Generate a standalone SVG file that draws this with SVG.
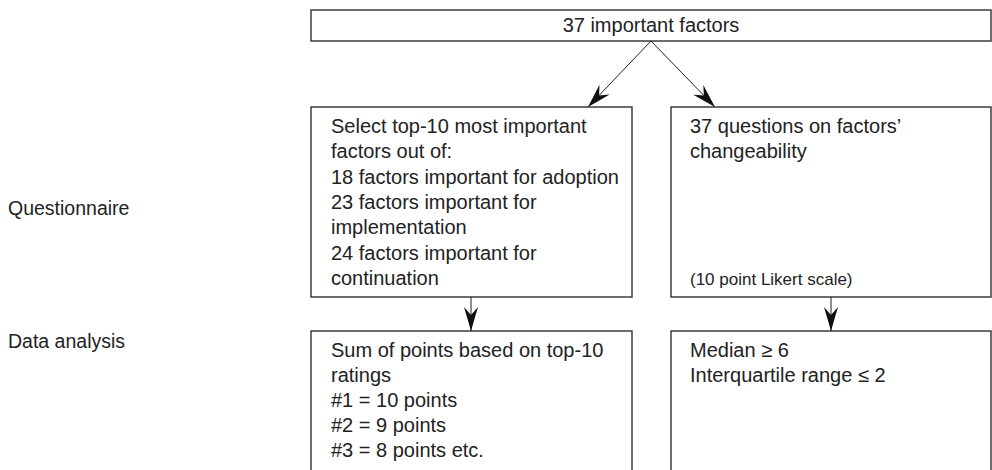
<svg xmlns="http://www.w3.org/2000/svg" width="992" height="470" viewBox="0 0 992 470">
<style>
text{font-family:"Liberation Sans",Arial,sans-serif;font-size:20px;fill:#222}
.side{font-size:19.5px}
.box{fill:#fff;stroke:#3c3c3c;stroke-width:1.5}
.conn{stroke:#222;stroke-width:1;fill:none}
</style>
<defs>
<marker id="ah" markerUnits="userSpaceOnUse" viewBox="-25 -8 26 16" refX="0" refY="0" markerWidth="26" markerHeight="16" orient="auto">
<path d="M0,0 L-24,-7 L-16,0 L-24,7 Z" fill="#111"/>
</marker>
</defs>
<rect width="992" height="470" fill="#fff"/>
<g id="label-questionnaire"><text class="side" x="8" y="215">Questionnaire</text></g>
<g id="label-data-analysis"><text class="side" x="8" y="348">Data analysis</text></g>
<g id="top">
<rect class="box" x="311" y="10" width="680" height="31"/>
<text x="651" y="32" text-anchor="middle">37 important factors</text>
</g>
<g id="select">
<rect class="box" x="311" y="107" width="321" height="190"/>
<text x="331" y="133">Select top-10 most important</text>
<text x="331" y="158.3">factors out of:</text>
<text x="331" y="183.6">18 factors important for adoption</text>
<text x="331" y="208.9">23 factors important for</text>
<text x="331" y="234.2">implementation</text>
<text x="331" y="259.5">24 factors important for</text>
<text x="331" y="284.8">continuation</text>
</g>
<g id="questions">
<rect class="box" x="671" y="107" width="320" height="190"/>
<text x="690" y="133">37 questions on factors’</text>
<text x="690" y="158.3">changeability</text>
<text x="690" y="284.8" style="font-size:17px">(10 point Likert scale)</text>
</g>
<g id="sum">
<rect class="box" x="311" y="331" width="321" height="160"/>
<text x="331" y="357">Sum of points based on top-10</text>
<text x="331" y="382">ratings</text>
<text x="331" y="407">#1 = 10 points</text>
<text x="331" y="432">#2 = 9 points</text>
<text x="331" y="457">#3 = 8 points etc.</text>
</g>
<g id="median">
<rect class="box" x="671" y="331" width="320" height="160"/>
<text x="690" y="357">Median ≥ 6</text>
<text x="690" y="382">Interquartile range ≤ 2</text>
</g>
<g id="connectors">
<line class="conn" x1="651" y1="41" x2="588" y2="107" marker-end="url(#ah)"/>
<line class="conn" x1="651" y1="41" x2="715" y2="107" marker-end="url(#ah)"/>
<line class="conn" x1="471" y1="297" x2="471" y2="331" marker-end="url(#ah)"/>
<line class="conn" x1="831" y1="297" x2="831" y2="331" marker-end="url(#ah)"/>
</g>
</svg>
